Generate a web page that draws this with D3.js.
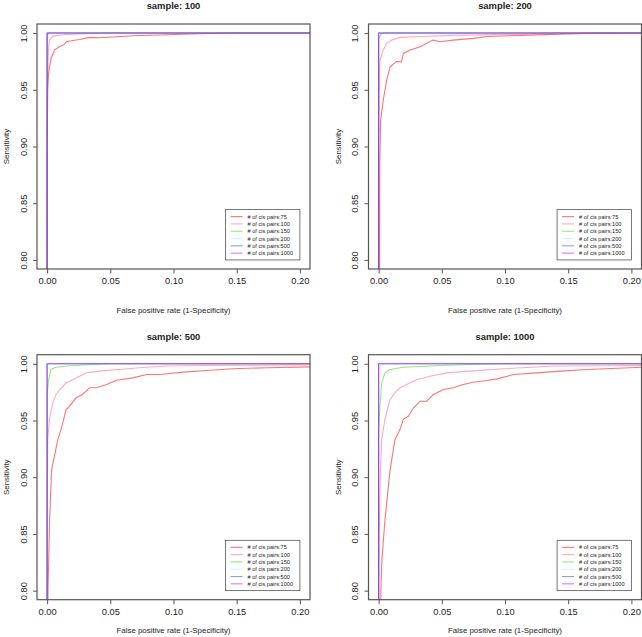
<!DOCTYPE html>
<html><head><meta charset="utf-8">
<script src="https://cdn.jsdelivr.net/npm/d3@7"></script>
<style>body{margin:0;background:#fff}svg{display:block}text{font-family:"Liberation Sans",Arial,Helvetica,sans-serif}</style>
</head><body>
<script>
// ---- data ----
const panelTitles = ["sample: 100", "sample: 200", "sample: 500", "sample: 1000"];
const seriesLabels = ["# of cis pairs:75", "# of cis pairs:100", "# of cis pairs:150", "# of cis pairs:200", "# of cis pairs:500", "# of cis pairs:1000"];
const seriesColors = ["#ff0000", "#ff4070", "#33dd00", "#66ffdd", "#2233ff", "#cc00ff"];
const seriesOpacity = [0.55, 0.45, 0.55, 0.4, 0.5, 0.55];
const xTicks = [0.00, 0.05, 0.10, 0.15, 0.20];
const yTicks = [0.80, 0.85, 0.90, 0.95, 1.00];
const xLabel = "False positive rate (1-Specificity)";
const yLabel = "Sensitivity";

const step = [[0,0],[0,1],[0.21,1]];

// sample 100
const s100_75 = [[0,0],[0,0.9],[0.0005,0.95],[0.001,0.962],[0.0018,0.97],[0.0033,0.978],[0.0058,0.985],[0.0098,0.988],[0.0137,0.99],[0.0151,0.9923],[0.019,0.9932],[0.0257,0.9944],[0.0336,0.9962],[0.0415,0.9959],[0.068,0.9976],[0.0944,0.9985],[0.121,0.9994],[0.15,1],[0.21,1]];
const s100_100 = [[0,0],[0,0.941],[0.001,0.985],[0.0018,0.9938],[0.0045,0.9973],[0.015,0.9988],[0.05,1],[0.21,1]];
const s100_150 = [[0,0],[0,0.998],[0.0015,1],[0.21,1]];
const s100_200 = step, s100_500 = step, s100_1000 = step;

// sample 200
const s200_75 = [[0,0],[0.0008,0.85],[0.001,0.89],[0.0016,0.923],[0.0037,0.941],[0.0063,0.958],[0.009,0.970],[0.0143,0.975],[0.018,0.9745],[0.0196,0.982],[0.025,0.985],[0.033,0.988],[0.043,0.9938],[0.0486,0.9923],[0.059,0.9938],[0.075,0.9953],[0.086,0.997],[0.112,0.998],[0.165,0.9997],[0.21,1]];
const s200_100 = [[0,0],[0,0.9],[0.0005,0.95],[0.001,0.976],[0.0037,0.985],[0.0063,0.991],[0.0103,0.9938],[0.017,0.9962],[0.033,0.997],[0.059,0.998],[0.112,0.999],[0.14,1],[0.21,1]];
const s200_150 = [[0,0],[0,0.995],[0.002,0.999],[0.004,1],[0.21,1]];
const s200_200 = step, s200_500 = step, s200_1000 = step;

// sample 500
const s500_75 = [[0,0],[0.0007,0.8],[0.002,0.862],[0.0035,0.906],[0.0084,0.933],[0.011,0.942],[0.015,0.9596],[0.0177,0.9625],[0.023,0.970],[0.028,0.9729],[0.0336,0.9788],[0.039,0.9788],[0.047,0.9817],[0.055,0.9855],[0.068,0.9876],[0.0785,0.9905],[0.089,0.9905],[0.1076,0.9926],[0.129,0.9943],[0.147,0.9956],[0.174,0.9965],[0.21,0.9973]];
const s500_100 = [[0,0],[0,0.85],[0.0005,0.933],[0.0018,0.951],[0.0045,0.9655],[0.007,0.973],[0.0098,0.977],[0.015,0.983],[0.0203,0.986],[0.0256,0.989],[0.028,0.990],[0.031,0.992],[0.0415,0.9935],[0.057,0.995],[0.073,0.9965],[0.094,0.998],[0.12,0.9985],[0.21,0.999]];
const s500_150 = [[0,0],[0,0.974],[0.0013,0.986],[0.003,0.995],[0.007,0.997],[0.015,0.998],[0.036,0.9994],[0.05,1],[0.21,1]];
const s500_200 = [[0,0],[0,0.998],[0.002,1],[0.21,1]];
const s500_500 = step, s500_1000 = step;

// sample 1000
const s1000_75 = [[0,0],[0.0018,0.8],[0.0026,0.827],[0.005,0.862],[0.009,0.906],[0.0129,0.933],[0.0169,0.942],[0.0196,0.951],[0.0235,0.9537],[0.0275,0.961],[0.0328,0.967],[0.038,0.967],[0.0433,0.9729],[0.0513,0.9773],[0.059,0.9788],[0.067,0.9817],[0.075,0.9837],[0.0857,0.9852],[0.0937,0.9867],[0.107,0.9905],[0.125,0.992],[0.144,0.9935],[0.165,0.995],[0.21,0.997]];
const s1000_100 = [[0,0],[0.0002,0.8],[0.0005,0.85],[0.0013,0.9],[0.0024,0.933],[0.005,0.951],[0.009,0.9685],[0.0129,0.9744],[0.0169,0.9788],[0.0222,0.9817],[0.030,0.986],[0.0407,0.989],[0.054,0.992],[0.0725,0.9935],[0.099,0.9956],[0.139,0.998],[0.21,0.9985]];
const s1000_150 = [[0,0],[0,0.94],[0.001,0.9625],[0.0024,0.983],[0.005,0.992],[0.009,0.995],[0.0195,0.997],[0.0407,0.998],[0.07,0.9994],[0.1,1],[0.21,1]];
const s1000_200 = [[0,0],[0,0.995],[0.002,0.999],[0.005,1],[0.21,1]];
const s1000_500 = step, s1000_1000 = step;

const panelData = [
  [s100_75, s100_100, s100_150, s100_200, s100_500, s100_1000],
  [s200_75, s200_100, s200_150, s200_200, s200_500, s200_1000],
  [s500_75, s500_100, s500_150, s500_200, s500_500, s500_1000],
  [s1000_75, s1000_100, s1000_150, s1000_200, s1000_500, s1000_1000]
];

// ---- drawing ----
const W = 642, H = 637;
const svg = d3.select("body").append("svg").attr("width", W).attr("height", H);
const boxL = 37, boxR = 310, boxT = 24, boxB = 269, offX = 331.5, offY = 330.7;
const boxColor = "#555";

panelData.forEach((series, pi) => {
  const col = pi % 2, row = Math.floor(pi / 2);
  const g = svg.append("g").attr("transform", `translate(${col*offX},${row*offY})`);
  const x = d3.scaleLinear().domain([-0.008, 0.208]).range([boxL, boxR]);
  const y = d3.scaleLinear().domain([0.792, 1.008]).range([boxB, boxT]);

  const cid = "clip" + pi;
  g.append("clipPath").attr("id", cid).append("rect")
    .attr("x", boxL).attr("y", boxT).attr("width", boxR - boxL).attr("height", boxB - boxT);

  const line = d3.line().x(d => x(d[0])).y(d => y(d[1]));
  const lg = g.append("g").attr("clip-path", `url(#${cid})`);
  series.forEach((s, si) => {
    lg.append("path").attr("d", line(s)).attr("fill", "none")
      .attr("stroke", seriesColors[si]).attr("stroke-opacity", seriesOpacity[si])
      .attr("stroke-width", 1.1);
  });

  g.append("rect").attr("x", boxL).attr("y", boxT).attr("width", boxR - boxL).attr("height", boxB - boxT)
    .attr("fill", "none").attr("stroke", boxColor).attr("stroke-width", 1.2);

  // x axis
  const xa = g.append("g").attr("transform", `translate(0,${boxB})`)
    .call(d3.axisBottom(x).tickValues(xTicks).tickFormat(d3.format(".2f")).tickSize(4.5).tickPadding(4));
  xa.select(".domain").remove();
  xa.selectAll("line").attr("stroke", boxColor);
  xa.selectAll("text").attr("font-size", 9.3).attr("fill", "#222");

  // y axis
  const ya = g.append("g").attr("transform", `translate(${boxL},0)`)
    .call(d3.axisLeft(y).tickValues(yTicks).tickFormat(d3.format(".2f")).tickSize(4).tickPadding(0));
  ya.select(".domain").remove();
  ya.selectAll("line").attr("stroke", boxColor);
  ya.selectAll("text").attr("font-size", 9.3).attr("fill", "#222")
    .attr("text-anchor", "middle").attr("dy", 0).attr("x", 0).attr("y", 0)
    .attr("transform", "translate(-10.5,0) rotate(-90)");

  // titles
  g.append("text").attr("x", (boxL + boxR) / 2).attr("y", 9).attr("text-anchor", "middle")
    .attr("font-weight", "bold").attr("font-size", 9.4).attr("fill", "#222").text(panelTitles[pi]);
  g.append("text").attr("x", (boxL + boxR) / 2).attr("y", row === 0 ? 312.5 : 302).attr("text-anchor", "middle")
    .attr("font-size", 7.9).attr("fill", "#222").text(xLabel);
  g.append("text").attr("transform", `translate(9,${(boxT + boxB) / 2}) rotate(-90)`).attr("text-anchor", "middle")
    .attr("font-size", 7.9).attr("fill", "#222").text(yLabel);

  // legend anchored at data corner (0.2, 0.8)
  const lw = 74.3, lh = 50.3;
  const lx = x(0.2) - lw, ly = y(0.8) - lh;
  const leg = g.append("g").attr("transform", `translate(${lx},${ly})`);
  leg.append("rect").attr("width", lw).attr("height", lh).attr("fill", "#fff")
    .attr("stroke", boxColor).attr("stroke-width", 0.8);
  seriesLabels.forEach((lab, si) => {
    const yy = 7 + si * 7.3;
    leg.append("line").attr("x1", 5).attr("x2", 17).attr("y1", yy).attr("y2", yy)
      .attr("stroke", seriesColors[si]).attr("stroke-opacity", seriesOpacity[si]).attr("stroke-width", 1.1);
    leg.append("text").attr("x", 22).attr("y", yy + 2).attr("font-size", 5.6).attr("fill", "#222").text(lab);
  });
});
</script>
</body></html>
